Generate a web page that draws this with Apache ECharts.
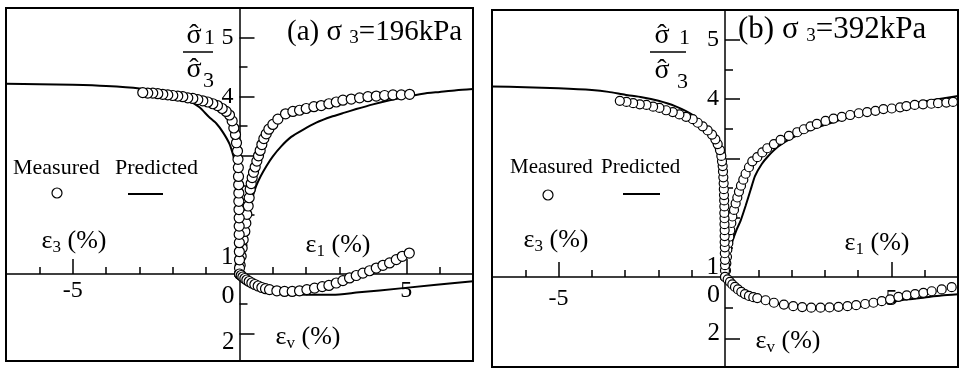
<!DOCTYPE html>
<html><head><meta charset="utf-8">
<script src="https://cdn.jsdelivr.net/npm/echarts@6/dist/echarts.min.js"></script>
<style>html,body{margin:0;padding:0;background:#fff}#c{width:959px;height:370px}</style>
</head><body><div id="c"></div>
<script>
// ---------- axis values ----------
const strainMin = -7, strainMax = 7;
const strainTicksMajor = [-5, 5];
const strainTicksMinor = [-6, -4, -3, -2, -1, 1, 2, 3, 4, 6];
const strainLabels = [-5, 5];
const ratioMin = 1, ratioMax = 5.5;
const ratioTicksMajor = [2, 3, 4, 5];
const ratioTicksMinor = [1.5, 2.5, 3.5, 4.5];
const ratioLabels = [1, 4, 5];
const volTicksMajor = [2];
const volTicksMinor = [1];
const volLabels = [0, 2];

// ---------- panel (a) sigma3 = 196 kPa ----------
const aMeasE1 = [[0,1.0],[0.02,1.15],[0.05,1.30],[0.08,1.44],[0.11,1.58],[0.16,1.72],[0.19,1.86],[0.22,2.01],[0.26,2.15],[0.29,2.29],[0.32,2.43],[0.35,2.53],[0.38,2.63],[0.42,2.72],[0.47,2.81],[0.52,2.91],[0.57,3.00],[0.62,3.09],[0.67,3.19],[0.73,3.29],[0.80,3.37],[0.88,3.45],[1.00,3.53],[1.15,3.62],[1.38,3.71],[1.60,3.75],[1.80,3.77],[2.00,3.80],[2.23,3.83],[2.45,3.85],[2.68,3.88],[2.90,3.91],[3.10,3.94],[3.35,3.96],[3.60,3.98],[3.85,4.00],[4.10,4.01],[4.35,4.02],[4.60,4.03],[4.85,4.03],[5.10,4.04]];
const aMeasE3 = [[0,1.0],[0,1.10],[0,1.24],[-0.005,1.38],[-0.005,1.53],[-0.01,1.67],[-0.01,1.81],[-0.01,1.95],[-0.015,2.09],[-0.02,2.23],[-0.02,2.37],[-0.025,2.51],[-0.03,2.65],[-0.035,2.80],[-0.045,2.94],[-0.06,3.08],[-0.09,3.22],[-0.12,3.36],[-0.17,3.47],[-0.22,3.59],[-0.30,3.69],[-0.40,3.75],[-0.52,3.80],[-0.66,3.85],[-0.80,3.88],[-0.95,3.91],[-1.10,3.93],[-1.25,3.95],[-1.40,3.97],[-1.55,3.98],[-1.70,4.00],[-1.85,4.01],[-2.00,4.02],[-2.15,4.03],[-2.30,4.04],[-2.45,4.05],[-2.60,4.06],[-2.75,4.06],[-2.90,4.07]];
const aPredE1 = [[0,1],[0.02,1.2],[0.07,1.5],[0.14,1.75],[0.23,2.0],[0.31,2.17],[0.40,2.32],[0.50,2.49],[0.63,2.65],[0.80,2.82],[1.00,2.99],[1.25,3.16],[1.55,3.32],[1.90,3.44],[2.30,3.56],[2.75,3.66],[3.15,3.73],[3.5,3.79],[4.0,3.87],[4.5,3.94],[5.0,4.00],[5.5,4.05],[6.0,4.08],[6.5,4.11],[7.0,4.13]];
const aPredE3 = [[0,1],[-0.01,1.5],[-0.03,2.0],[-0.06,2.5],[-0.1,2.8],[-0.17,2.97],[-0.3,3.2],[-0.5,3.4],[-0.7,3.55],[-0.92,3.66],[-1.2,3.82],[-1.6,3.96],[-2.2,4.07],[-3.0,4.14],[-4.0,4.18],[-5.0,4.20],[-6.0,4.21],[-7.0,4.22]];
const aMeasEv = [[0,0],[0.05,0.05],[0.1,0.1],[0.16,0.15],[0.22,0.2],[0.29,0.25],[0.37,0.3],[0.46,0.35],[0.56,0.4],[0.67,0.45],[0.78,0.49],[0.90,0.52],[1.12,0.56],[1.35,0.58],[1.58,0.58],[1.80,0.56],[2.02,0.52],[2.25,0.47],[2.48,0.42],[2.68,0.38],[2.90,0.30],[3.10,0.22],[3.30,0.13],[3.50,0.05],[3.70,-0.03],[3.90,-0.11],[4.10,-0.20],[4.30,-0.29],[4.50,-0.37],[4.70,-0.48],[4.88,-0.59],[5.09,-0.70]];
const aPredEv = [[0,0],[0.25,0.2],[0.5,0.38],[0.75,0.5],[1.0,0.58],[1.5,0.66],[2.0,0.69],[2.8,0.69],[3.5,0.62],[4.9,0.47],[7.0,0.24]];

// ---------- panel (b) sigma3 = 392 kPa ----------
const bMeasE1 = [[0,1],[0.03,1.11],[0.04,1.23],[0.06,1.34],[0.07,1.46],[0.10,1.57],[0.13,1.68],[0.16,1.79],[0.19,1.91],[0.22,2.02],[0.27,2.13],[0.32,2.24],[0.37,2.34],[0.42,2.44],[0.48,2.54],[0.55,2.64],[0.62,2.74],[0.72,2.85],[0.82,2.95],[0.97,3.02],[1.12,3.10],[1.27,3.17],[1.47,3.24],[1.67,3.31],[1.92,3.38],[2.17,3.44],[2.37,3.49],[2.57,3.54],[2.76,3.58],[3.02,3.63],[3.26,3.67],[3.51,3.70],[3.76,3.73],[4.02,3.76],[4.27,3.78],[4.52,3.80],[4.76,3.83],[5.01,3.84],[5.26,3.86],[5.45,3.88],[5.70,3.90],[5.95,3.91],[6.20,3.92],[6.40,3.93],[6.65,3.94],[6.85,3.95]];
const bMeasE3 = [[0,1],[0,1.11],[0,1.20],[0,1.29],[-0.005,1.40],[-0.005,1.50],[-0.01,1.59],[-0.01,1.69],[-0.01,1.79],[-0.015,1.89],[-0.015,1.99],[-0.02,2.08],[-0.02,2.19],[-0.025,2.29],[-0.03,2.38],[-0.035,2.48],[-0.04,2.58],[-0.05,2.68],[-0.06,2.78],[-0.07,2.87],[-0.09,2.95],[-0.11,3.04],[-0.15,3.14],[-0.22,3.24],[-0.29,3.32],[-0.39,3.40],[-0.52,3.47],[-0.67,3.54],[-0.82,3.60],[-0.97,3.66],[-1.17,3.70],[-1.37,3.74],[-1.57,3.78],[-1.77,3.81],[-1.97,3.85],[-2.16,3.87],[-2.36,3.90],[-2.56,3.91],[-2.76,3.93],[-2.96,3.95],[-3.16,3.97]];
const bPredE1 = [[0,1],[0.05,1.2],[0.12,1.4],[0.22,1.6],[0.35,1.8],[0.47,1.95],[0.62,2.2],[0.77,2.47],[0.9,2.7],[1.1,2.9],[1.3,3.04],[1.6,3.2],[2.0,3.34],[2.5,3.47],[3.2,3.6],[4.2,3.77],[5.2,3.88],[6.2,3.98],[7,4.05]];
const bPredE3 = [[0,1],[-0.02,1.8],[-0.04,2.3],[-0.08,2.7],[-0.15,2.95],[-0.25,3.12],[-0.4,3.32],[-0.67,3.56],[-1.0,3.74],[-1.5,3.88],[-2.0,3.97],[-2.5,4.03],[-3.0,4.07],[-3.5,4.12],[-4.0,4.15],[-5.0,4.18],[-6.0,4.20],[-7.0,4.21]];
const bMeasEv = [[0,0],[0.08,0.08],[0.15,0.16],[0.22,0.24],[0.3,0.32],[0.39,0.40],[0.49,0.48],[0.6,0.55],[0.72,0.61],[0.85,0.65],[0.97,0.68],[1.22,0.75],[1.47,0.83],[1.77,0.89],[2.05,0.94],[2.32,0.97],[2.59,0.99],[2.87,0.99],[3.14,0.98],[3.41,0.96],[3.68,0.94],[3.94,0.91],[4.21,0.87],[4.46,0.83],[4.71,0.78],[4.96,0.72],[5.21,0.64],[5.46,0.59],[5.71,0.55],[5.96,0.51],[6.21,0.46],[6.51,0.40],[6.81,0.33]];
const bPredEv = [[0,0],[0.3,0.3],[0.6,0.53],[1,0.71],[1.5,0.85],[2,0.94],[2.5,0.99],[3,1.01],[3.5,0.99],[4,0.95],[4.5,0.88],[5,0.8],[5.5,0.72],[6,0.66],[6.5,0.6],[7,0.56]];

// ---------- texts ----------
const titlesA = ['(a) σ ', '3', '=196kPa'];
const titlesB = ['(b) σ ', '3', '=392kPa'];
const legendTexts = ['Measured', 'Predicted'];

// ---------- layout / style (not data) ----------
const BLACK = '#000';
const FONT = '"Liberation Serif","Times New Roman",serif';
const panels = [
  {left: 6, width: 467, top: 8, upperH: 266, fullH: 353, evMin: -8.87, evMax: 2.9, sym: 10,
   measE1: aMeasE1, measE3: aMeasE3, predE1: aPredE1, predE3: aPredE3, measEv: aMeasEv, predEv: aPredEv,
   xLabelMargin: 5, oneShift: 34, zeroShift: 44, twoPad: [16,0,0,0],
   title: titlesA, titlePos: [287, 32], titleSize: 29,
   frac: {sx: 194, nY: 36, dY: 70, barX: [183, 213], barY: 52, n1X: 204, n1Y: 38, d3X: 203, d3Y: 81},
   leg: {mX: 13, pX: 115, y: 168, size: 22, cx: 57, cy: 193, l: [128, 163], ly: 194},
   e3: [74, 241], e1: [338, 245], ev: [308, 337]},
  {left: 492, width: 466, top: 10, upperH: 267, fullH: 357, evMin: -8.6, evMax: 2.9, sym: 9,
   measE1: bMeasE1, measE3: bMeasE3, predE1: bPredE1, predE3: bPredE3, measEv: bMeasEv, predEv: bPredEv,
   xLabelMargin: 10, oneShift: 20, zeroShift: 36, twoPad: [0,0,12,0],
   title: titlesB, titlePos: [738, 30], titleSize: 31,
   frac: {sx: 662, nY: 36, dY: 71, barX: [650, 686], barY: 52, n1X: 679, n1Y: 38, d3X: 677, d3Y: 82},
   leg: {mX: 510, pX: 601, y: 167, size: 21, cx: 548, cy: 195, l: [623, 660], ly: 194},
   e3: [556, 240], e1: [877, 243], ev: [788, 341]}
];

const chart = echarts.init(document.getElementById('c'), null, {renderer: 'canvas'});
const option = {animation: false, backgroundColor: '#fff', grid: [], xAxis: [], yAxis: [], series: [], graphic: []};
const tickStyle = {color: BLACK, width: 1.5};

function text(x, y, str, size, align, extra) {
  return {type: 'text', x: x, y: y, silent: true, z: 10,
    style: Object.assign({text: str, fill: BLACK, fontFamily: FONT, fontSize: size,
      align: align || 'left', verticalAlign: 'middle'}, extra || {})};
}
function strainTitle(pos, sub) {
  return text(pos[0], pos[1], '{e|ε}{s|' + sub + '}{p| (%)}', 26, 'center', {rich: {
    e: {fontFamily: FONT, fontSize: 26, lineHeight: 30, fill: BLACK},
    s: {fontFamily: FONT, fontSize: 17, lineHeight: 20, verticalAlign: 'bottom', fill: BLACK},
    p: {fontFamily: FONT, fontSize: 26, lineHeight: 30, fill: BLACK}}});
}

panels.forEach(function (P, k) {
  const gU = 2 * k, gF = 2 * k + 1;
  const yU = 4 * k, yF = 4 * k + 2;
  const xIdxU = 3 * k, xIdxF = 3 * k + 2;
  // the vertical axes sit at strain = 0, i.e. moved inward from the grid's left edge
  const yOffset = -((0 - strainMin) / (strainMax - strainMin)) * P.width;
  option.grid.push({left: P.left, top: P.top, width: P.width, height: P.upperH, show: false, containLabel: false, outerBoundsMode: 'none'});
  option.grid.push({left: P.left, top: P.top, width: P.width, height: P.fullH, show: true, borderColor: BLACK, borderWidth: 2, backgroundColor: 'transparent', containLabel: false, outerBoundsMode: 'none'});

  option.xAxis.push(
    {type: 'value', gridIndex: gU, min: strainMin, max: strainMax, position: 'bottom',
     axisLine: {show: true, onZero: false, lineStyle: tickStyle},
     axisTick: {show: true, inside: true, length: 15, customValues: strainTicksMajor, lineStyle: tickStyle},
     axisLabel: {show: true, customValues: strainLabels, margin: P.xLabelMargin, color: BLACK, fontFamily: FONT, fontSize: 24},
     splitLine: {show: false}},
    {type: 'value', gridIndex: gU, min: strainMin, max: strainMax, position: 'bottom',
     axisLine: {show: false, onZero: false},
     axisTick: {show: true, inside: true, length: 7, customValues: strainTicksMinor, lineStyle: tickStyle},
     axisLabel: {show: false}, splitLine: {show: false}},
    {type: 'value', gridIndex: gF, min: strainMin, max: strainMax, position: 'bottom', show: false,
     axisLine: {show: false, onZero: false}, splitLine: {show: false}}
  );

  option.yAxis.push(
    {type: 'value', gridIndex: gU, min: ratioMin, max: ratioMax, position: 'left', offset: yOffset,
     axisLine: {show: false, onZero: false},
     axisTick: {show: true, inside: true, length: 15, customValues: ratioTicksMajor, lineStyle: tickStyle},
     axisLabel: {show: true, customValues: ratioLabels, margin: 6,
       formatter: function (v) { return v === 1 ? '{up|1}' : '{n|' + v + '}'; },
       rich: {up: {fontFamily: FONT, fontSize: 25, color: BLACK, padding: [0, 0, P.oneShift, 0]},
              n: {fontFamily: FONT, fontSize: 24, color: BLACK}}},
     splitLine: {show: false}},
    {type: 'value', gridIndex: gU, min: ratioMin, max: ratioMax, position: 'left', offset: yOffset,
     axisLine: {show: false, onZero: false},
     axisTick: {show: true, inside: true, length: 8, customValues: ratioTicksMinor, lineStyle: tickStyle},
     axisLabel: {show: false}, splitLine: {show: false}},
    {type: 'value', gridIndex: gF, min: P.evMin, max: P.evMax, inverse: true, position: 'left', offset: yOffset,
     axisLine: {show: true, onZero: false, lineStyle: tickStyle},
     axisTick: {show: true, inside: true, length: 15, customValues: volTicksMajor, lineStyle: tickStyle},
     axisLabel: {show: true, customValues: volLabels, margin: 5,
       formatter: function (v) { return v === 0 ? '{dn|0}' : '{t|' + v + '}'; },
       rich: {dn: {fontFamily: FONT, fontSize: 26, color: BLACK, padding: [P.zeroShift, 0, 0, 0]},
              t: {fontFamily: FONT, fontSize: 25, color: BLACK, padding: P.twoPad}}},
     splitLine: {show: false}},
    {type: 'value', gridIndex: gF, min: P.evMin, max: P.evMax, inverse: true, position: 'left', offset: yOffset,
     axisLine: {show: false, onZero: false},
     axisTick: {show: true, inside: true, length: 8, customValues: volTicksMinor, lineStyle: tickStyle},
     axisLabel: {show: false}, splitLine: {show: false}}
  );

  const lineBase = {type: 'line', name: 'Predicted', symbol: 'none', showSymbol: false, smooth: 0.2,
    lineStyle: {color: BLACK, width: 2}, z: 2, silent: true};
  const dotBase = {type: 'scatter', name: 'Measured', symbol: 'circle', symbolSize: P.sym,
    itemStyle: {color: '#fff', borderColor: BLACK, borderWidth: 1.2, opacity: 1}, z: 3, silent: true};
  option.series.push(
    Object.assign({}, lineBase, {xAxisIndex: xIdxU, yAxisIndex: yU, data: P.predE1}),
    Object.assign({}, lineBase, {xAxisIndex: xIdxU, yAxisIndex: yU, data: P.predE3}),
    Object.assign({}, lineBase, {xAxisIndex: xIdxF, yAxisIndex: yF, data: P.predEv}),
    Object.assign({}, dotBase, {xAxisIndex: xIdxU, yAxisIndex: yU, data: P.measE1}),
    Object.assign({}, dotBase, {xAxisIndex: xIdxU, yAxisIndex: yU, data: P.measE3}),
    Object.assign({}, dotBase, {xAxisIndex: xIdxF, yAxisIndex: yF, data: P.measEv})
  );

  // title
  option.graphic.push(text(P.titlePos[0], P.titlePos[1],
    '{t|' + P.title[0] + '}{s|' + P.title[1] + '}{t|' + P.title[2] + '}', P.titleSize, 'left', {rich: {
      t: {fontFamily: FONT, fontSize: P.titleSize, lineHeight: 32, fill: BLACK},
      s: {fontFamily: FONT, fontSize: 19, lineHeight: 20, verticalAlign: 'bottom', fill: BLACK}}}));
  // stress ratio fraction
  const F = P.frac;
  option.graphic.push(
    text(F.sx, F.nY, 'σ', 28, 'center'), text(F.sx, F.nY, 'ˆ', 28, 'center'),
    text(F.n1X, F.n1Y, '1', 22, 'left'),
    {type: 'line', silent: true, shape: {x1: F.barX[0], y1: F.barY, x2: F.barX[1], y2: F.barY}, style: {stroke: BLACK, lineWidth: 1.5}},
    text(F.sx, F.dY, 'σ', 28, 'center'), text(F.sx, F.dY, 'ˆ', 28, 'center'),
    text(F.d3X, F.d3Y, '3', 22, 'left')
  );
  // legend
  const L = P.leg;
  option.graphic.push(
    text(L.mX, L.y, legendTexts[0], L.size, 'left'),
    text(L.pX, L.y, legendTexts[1], L.size, 'left'),
    {type: 'circle', silent: true, shape: {cx: L.cx, cy: L.cy, r: 5}, style: {fill: '#fff', stroke: BLACK, lineWidth: 1.2}},
    {type: 'line', silent: true, shape: {x1: L.l[0], y1: L.ly, x2: L.l[1], y2: L.ly}, style: {stroke: BLACK, lineWidth: 2}}
  );
  // axis titles
  option.graphic.push(strainTitle(P.e3, '3'), strainTitle(P.e1, '1'), strainTitle(P.ev, 'v'));
});

chart.setOption(option);
</script>
</body></html>
